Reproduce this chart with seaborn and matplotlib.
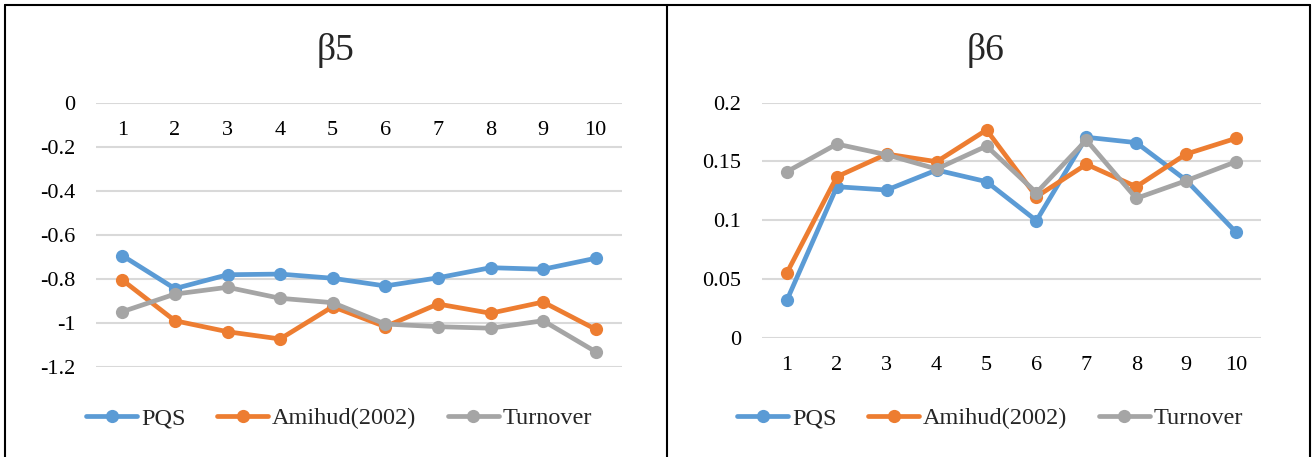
import matplotlib
matplotlib.use("Agg")
import matplotlib.pyplot as plt
from matplotlib.lines import Line2D
from matplotlib.ticker import MultipleLocator, FuncFormatter
import seaborn as sns
import pandas as pd

# ---------------- data ----------------
deciles = list(range(1, 11))
series_names = ["PQS", "Amihud(2002)", "Turnover"]
colors = ["#5B9BD5", "#ED7D31", "#A5A5A5"]

b5_pqs = [-0.695, -0.845, -0.782, -0.779, -0.798, -0.833, -0.796, -0.750, -0.757, -0.707]
b5_amihud = [-0.806, -0.991, -1.041, -1.074, -0.927, -1.018, -0.915, -0.957, -0.906, -1.030]
b5_turnover = [-0.950, -0.870, -0.839, -0.889, -0.909, -1.006, -1.018, -1.025, -0.991, -1.132]

b6_pqs = [0.032, 0.1285, 0.1257, 0.1427, 0.1328, 0.0996, 0.1706, 0.166, 0.134, 0.0897]
b6_amihud = [0.0553, 0.137, 0.1563, 0.1498, 0.1768, 0.120, 0.1476, 0.1285, 0.1563, 0.1697]
b6_turnover = [0.1413, 0.1648, 0.1557, 0.1436, 0.1631, 0.1234, 0.1682, 0.1186, 0.1336, 0.1498]

titles = ["β5", "β6"]


def long_df(values_list):
    rows = []
    for name, vals in zip(series_names, values_list):
        for d, v in zip(deciles, vals):
            rows.append({"decile": d, "value": v, "series": name})
    return pd.DataFrame(rows)


df5 = long_df([b5_pqs, b5_amihud, b5_turnover])
df6 = long_df([b6_pqs, b6_amihud, b6_turnover])

# ---------------- style ----------------
sns.set_theme(style="white")
plt.rcParams["font.family"] = ["Liberation Serif", "DejaVu Serif"]

W, H = 1314, 457
fig = plt.figure(figsize=(W / 100, H / 100), dpi=100)


def fx(px):
    return px / W


def fy(py):
    return 1 - py / H


# axes rectangles (pixel coords)
ax1 = fig.add_axes([fx(96), fy(366.7), fx(622 - 96), (366.7 - 102.7) / H])
ax2 = fig.add_axes([fx(762), fy(337.7), fx(1261 - 762), (337.7 - 102.7) / H])

TICK_FS = 16
LEG_FS = 17.5
TITLE_FS = 27


def draw(ax, df, ylim, step):
    sns.lineplot(data=df, x="decile", y="value", hue="series",
                 hue_order=series_names, palette=colors, marker="o",
                 markersize=9.5, markeredgewidth=0, linewidth=3.4,
                 ax=ax, legend=False, sort=False)
    ax.set_xlim(0.5, 10.5)
    ax.set_ylim(*ylim)
    ax.yaxis.set_major_locator(MultipleLocator(step))
    ax.yaxis.set_major_formatter(FuncFormatter(lambda v, p: f"{round(v, 4):g}"))
    ax.set_xticks(deciles)
    ax.set_xticklabels([str(d) for d in deciles])
    ax.grid(axis="y", color="#D9D9D9", linewidth=1.5)
    ax.grid(axis="x", visible=False)
    ax.set_axisbelow(True)
    for s in ["top", "right", "left"]:
        ax.spines[s].set_visible(False)
    ax.spines["bottom"].set_position(("data", 0))
    ax.spines["bottom"].set_color("none")
    ax.tick_params(axis="x", length=0, pad=13, labelsize=TICK_FS, colors="black")
    ax.tick_params(axis="y", length=0, pad=15, labelsize=TICK_FS, colors="black")
    ax.set_xlabel("")
    ax.set_ylabel("")
    ax.set_facecolor("none")


draw(ax1, df5, (-1.2, 0), 0.2)
draw(ax2, df6, (0, 0.2), 0.05)

# titles centered on each panel
fig.text(fx(336), fy(50), titles[0], ha="center", va="center", fontsize=TITLE_FS)
fig.text(fx(986), fy(50), titles[1], ha="center", va="center", fontsize=TITLE_FS)

# legends
handles = [Line2D([0], [0], color=c, linewidth=3.4, marker="o", markersize=9.5,
                  markeredgewidth=0) for c in colors]
for cx in (339, 990):
    fig.legend(handles, series_names, loc="center",
               bbox_to_anchor=(fx(cx), fy(418)), ncol=3, frameon=False,
               fontsize=LEG_FS, handlelength=2.1, handletextpad=0.15,
               columnspacing=1.3)

# panel borders (table cells)
lw = 1.5
for (x0, x1) in [(5, 667), (667, 1310)]:
    fig.add_artist(Line2D([fx(x0), fx(x1)], [fy(5), fy(5)], color="black", lw=lw,
                          transform=fig.transFigure))
for x in (5, 667, 1310):
    fig.add_artist(Line2D([fx(x), fx(x)], [fy(5), fy(460)], color="black", lw=lw,
                          transform=fig.transFigure))

fig.savefig("out.png", dpi=100, facecolor="white")
